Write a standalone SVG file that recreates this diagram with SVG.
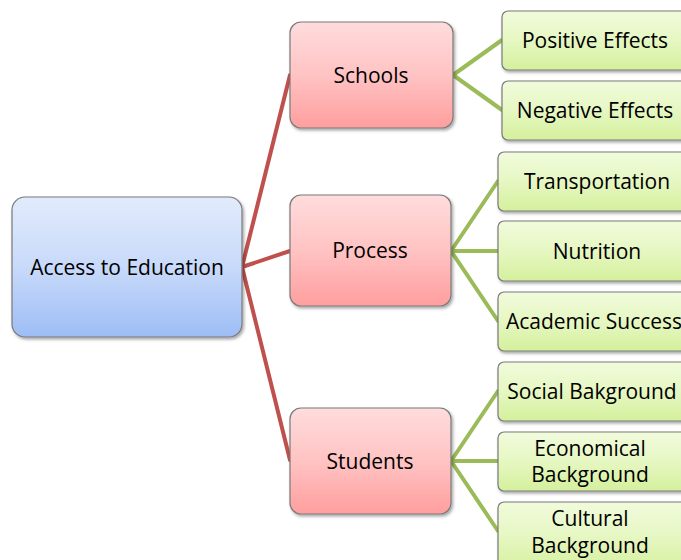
<svg xmlns="http://www.w3.org/2000/svg" width="681" height="560" viewBox="0 0 681 560">
  <defs>
    <linearGradient id="gBlue" x1="0" y1="0" x2="0" y2="1">
      <stop offset="0" stop-color="#e1ebfc"/>
      <stop offset="0.5" stop-color="#c8dafa"/>
      <stop offset="1" stop-color="#9dbdf5"/>
    </linearGradient>
    <linearGradient id="gRed" x1="0" y1="0" x2="0" y2="1">
      <stop offset="0" stop-color="#ffdcdc"/>
      <stop offset="0.5" stop-color="#ffc3c3"/>
      <stop offset="1" stop-color="#ff9e9e"/>
    </linearGradient>
    <linearGradient id="gGreen" x1="0" y1="0" x2="0" y2="1">
      <stop offset="0" stop-color="#f1fbdc"/>
      <stop offset="0.5" stop-color="#e6f7c2"/>
      <stop offset="1" stop-color="#d4f09c"/>
    </linearGradient>
    <filter id="shadow" x="-10%" y="-10%" width="130%" height="130%">
      <feDropShadow dx="1.5" dy="2" stdDeviation="1.5" flood-color="#000" flood-opacity="0.35"/>
    </filter>
  </defs>
  <style>
    .box { stroke: #7a7a7a; stroke-width: 1.2; filter: url(#shadow); }
    .root { fill: url(#gBlue); }
    .mid { fill: url(#gRed); }
    .leaf { fill: url(#gGreen); }
    .lbl { font-family: "Open Sans", "Noto Sans", sans-serif; font-size: 21px; fill: #000; text-anchor: middle; dominant-baseline: central; }
    .red { stroke: #c0504d; stroke-width: 4; fill: none; stroke-linecap: round; stroke-linejoin: round; }
    .green { stroke: #9bbb59; stroke-width: 4; fill: none; stroke-linecap: round; stroke-linejoin: round; }
  </style>

  <!-- connectors -->
  <g id="connectors">
    <path class="red" d="M242,267 L290,75"/>
    <path class="red" d="M242,267 L290,251"/>
    <path class="red" d="M242,267 L290,460"/>
    <path class="green" d="M453,75 L502,40"/>
    <path class="green" d="M453,75 L502,110"/>
    <path class="green" d="M451,251 L498,181"/>
    <path class="green" d="M451,251 L498,251"/>
    <path class="green" d="M451,251 L498,321"/>
    <path class="green" d="M451,461 L498,391"/>
    <path class="green" d="M451,461 L498,461"/>
    <path class="green" d="M451,461 L498,531"/>
  </g>

  <g id="access">
    <rect class="box root" x="12" y="197" width="230" height="140" rx="13"/>
    <text class="lbl" x="127" y="267">Access to Education</text>
  </g>

  <g id="schools">
    <rect class="box mid" x="290" y="22" width="163" height="106" rx="11"/>
    <text class="lbl" x="371" y="75">Schools</text>
  </g>
  <g id="process">
    <rect class="box mid" x="290" y="195" width="161" height="111" rx="11"/>
    <text class="lbl" x="370" y="250">Process</text>
  </g>
  <g id="students">
    <rect class="box mid" x="290" y="408" width="161" height="106" rx="11"/>
    <text class="lbl" x="370" y="461">Students</text>
  </g>

  <g id="positive">
    <rect class="box leaf" x="502" y="11" width="186" height="59" rx="6"/>
    <text class="lbl" x="595" y="40">Positive Effects</text>
  </g>
  <g id="negative">
    <rect class="box leaf" x="502" y="81" width="186" height="59" rx="6"/>
    <text class="lbl" x="595" y="110">Negative Effects</text>
  </g>

  <g id="transportation">
    <rect class="box leaf" x="498" y="152" width="196" height="59" rx="6"/>
    <text class="lbl" x="597" y="181">Transportation</text>
  </g>
  <g id="nutrition">
    <rect class="box leaf" x="498" y="221" width="196" height="60" rx="6"/>
    <text class="lbl" x="597" y="251">Nutrition</text>
  </g>
  <g id="academic">
    <rect class="box leaf" x="498" y="292" width="196" height="59" rx="6"/>
    <text class="lbl" x="594" y="321">Academic Success</text>
  </g>

  <g id="social">
    <rect class="box leaf" x="498" y="362" width="196" height="59" rx="6"/>
    <text class="lbl" x="592" y="391">Social Bakground</text>
  </g>
  <g id="economical">
    <rect class="box leaf" x="498" y="432" width="196" height="59" rx="6"/>
    <text class="lbl" x="590" y="448">Economical</text>
    <text class="lbl" x="590" y="474">Background</text>
  </g>
  <g id="cultural">
    <rect class="box leaf" x="498" y="502" width="196" height="70" rx="6"/>
    <text class="lbl" x="590" y="518">Cultural</text>
    <text class="lbl" x="590" y="545">Background</text>
  </g>
</svg>
